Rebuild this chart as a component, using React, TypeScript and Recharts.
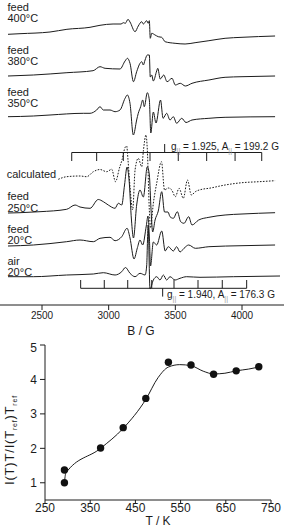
import React from 'react';
import { LineChart, Line, XAxis, YAxis, ReferenceLine, ComposedChart, Scatter } from 'recharts';

// ---------- EPR spectra (B in gauss, signal in arbitrary units) ----------
const fieldTicks = [2500, 3000, 3500, 4000];

const feed400: [number, number][] = [
  [2245, 1.7], [2335, 2.3], [2560, 4], [2687, 6.7], [2860, 8.7], [2935, 10.7], [3033, 12], [3093, 12],
  [3110, 13.3], [3125, 12.7], [3145, 16.7], [3160, 14], [3198, 4.3], [3222, 10], [3248, 14.3], [3260, 12],
  [3285, 15.3], [3297, 12.7], [3305, 15.3], [3312, -2.3], [3323, 2.7], [3348, 1], [3372, -0.7],
  [3398, -1.3], [3423, -5.7], [3498, -7.3], [3573, -8], [3648, -6.7], [3752, -4.7], [3873, -2.3],
  [4000, -1.3], [4248, 0],
];
const feed380: [number, number][] = [
  [2245, 0], [2435, 1], [2687, 3.3], [2883, 5.3], [2935, 9.3], [2973, 7.7], [3085, 7], [3123, 15],
  [3141, 17.7], [3160, 12.7], [3186, -5.7], [3210, 4.3], [3235, 12.7], [3248, 14.3], [3260, 11],
  [3273, 16], [3290, 21], [3305, 21], [3312, -1], [3323, 1], [3335, -5], [3360, 5], [3368, 7.7],
  [3387, -3], [3413, 1], [3438, -5.7], [3475, -2.3], [3500, -9], [3537, -7.3], [3575, -10],
  [3625, -7.3], [3752, -4], [3873, -1.3], [4000, -0.7], [4248, 0],
];
const feed350: [number, number][] = [
  [2245, 0.3], [2435, 1], [2560, 2], [2810, 3.7], [2860, 3.7], [2910, 7], [2935, 10.3], [2960, 7],
  [3010, 7], [3048, 5.3], [3085, 7], [3123, 18.7], [3140, 22], [3160, 13.7], [3185, -18], [3210, -3],
  [3222, 3.7], [3240, 10.3], [3255, 17], [3267, 10.3], [3290, 24.3], [3305, 17], [3316, -16],
  [3335, 5], [3355, -6], [3389, 17], [3408, -1.3], [3435, 3.7], [3460, -3], [3485, 0.3], [3510, -6.3],
  [3548, -1.3], [3580, -5.5], [3625, -3], [3752, -1.3], [3873, -0.3], [4248, 0.3],
];
const calculated: [number, number][] = [
  [2622, 1.7], [2685, 4.3], [2785, 5], [2835, 4.3], [2885, 9.3], [2935, 11.5], [2985, 9.3], [3023, 11.7],
  [3051, -0.7], [3081, 13], [3100, 21], [3123, 33.5], [3135, 35], [3145, 21], [3160, -5.7], [3180, -29],
  [3198, 11], [3222, 22.7], [3248, 14.3], [3261, 31], [3280, 46], [3290, 31], [3305, -29], [3314, -47],
  [3335, -22.3], [3360, -2.3], [3396, 19.3], [3419, -9], [3447, -7], [3473, -9], [3500, -15.7],
  [3528, -7.3], [3560, -17.3], [3591, 1], [3620, -14], [3650, -10.7], [3700, -8.3], [3752, -7.3],
  [3873, -4], [4000, -1.7], [4128, -0.7], [4248, 0.3],
];
const feed250: [number, number][] = [
  [2245, 0], [2335, 0.3], [2485, 1.3], [2685, 3.7], [2748, 8], [2785, 6], [2860, 4.7], [2922, 13.5],
  [2960, 11.3], [2997, 8], [3048, 4.7], [3072, 9.7], [3098, 8], [3119, 28], [3138, 46], [3153, 33],
  [3171, -7], [3186, -25], [3210, 8], [3235, 23], [3260, 16], [3290, 46.3], [3305, 38], [3318, 3],
  [3330, -19], [3348, -7], [3372, 2], [3398, 21.3], [3419, 1], [3445, 1], [3460, -3.7], [3485, -5.3],
  [3515, 1.3], [3540, -8.7], [3565, -10.3], [3600, -3.7], [3625, -12], [3675, -7], [3752, -4.3],
  [3873, -2], [4000, -1], [4248, 0.3],
];
const feed20: [number, number][] = [
  [2245, -1], [2435, 0], [2685, 3.3], [2785, 5], [2885, 3.3], [2935, 6.7], [3010, 7.7], [3048, 4.3],
  [3098, 8.3], [3138, 16.7], [3160, 7], [3190, -14], [3216, -2.5], [3235, 5], [3255, 0], [3282, 19],
  [3295, 29], [3306, 5], [3314, -21], [3335, 3], [3360, 0], [3398, 14], [3424, -6], [3447, -1.7],
  [3485, -6], [3510, -1.7], [3535, -7], [3565, -3.3], [3600, 0], [3650, -3.3], [3752, -1.7],
  [4000, -0.7], [4248, 0],
];
const air20: [number, number][] = [
  [2245, 0.3], [2435, 0.3], [2685, 2], [2885, 3], [2960, 4.3], [3048, 2], [3098, 5.3], [3126, 9.5],
  [3160, 3.7], [3198, 0.3], [3235, 3.7], [3273, 2], [3285, 11], [3296, 52], [3310, -12], [3335, -3],
  [3360, 0.3], [3385, -3], [3410, 2], [3435, -3], [3460, 0.3], [3498, -3], [3535, -1.3], [3585, 0.3],
  [3685, -0.3], [3935, 0.3], [4285, 1],
];

// vertical stacking offsets of the spectra
const offsets = { f400: 269, f380: 229, f350: 188, calc: 124, f250: 92, f20: 60, air: 28 };

// stick diagrams (hyperfine line positions, G)
const sticks1925 = [2723, 2910, 3110, 3310, 3522, 3735, 3948, 4148];
const center1925 = 3420;
const sticks1940 = [2790, 2967, 3143, 3323, 3490, 3670, 3852, 4035];
const center1940 = 3405;
const stickLevel1 = 152.5;
const stickLevel2 = 16.7;

// ---------- normalised intensity vs T ----------
const tempTicks = [250, 350, 450, 550, 650, 750];
const intensityTicks = [1, 2, 3, 4, 5];
const temps = [293, 293, 373, 423, 473, 523, 573, 623, 673, 723];
const ratios = [1.37, 1.0, 2.01, 2.6, 3.45, 4.5, 4.42, 4.15, 4.25, 4.37];
const fitT = [293, 296, 373, 423, 473, 500, 523, 548, 573, 600, 623, 648, 673, 700, 723];
const fitV = [1.0, 1.28, 2.0, 2.58, 3.42, 4.05, 4.36, 4.43, 4.4, 4.24, 4.16, 4.18, 4.25, 4.3, 4.36];

const FONT = '"Liberation Sans", Arial, sans-serif';
const INK = '#1c1c1c';

const toSeries = (arr: [number, number][], off: number) => arr.map(([B, s]) => ({ B, v: off + s }));

const Sub = ({ children }: { children: React.ReactNode }) => (
  <tspan fontSize={7} dy={3} fill="#999">{children}</tspan>
);

export default function App() {
  const points = temps.map((t, i) => ({ t, v: ratios[i] }));
  const fit = fitT.map((t, i) => ({ t, v: fitV[i] }));
  const series = [
    { d: toSeries(feed400, offsets.f400), dash: undefined },
    { d: toSeries(feed380, offsets.f380), dash: undefined },
    { d: toSeries(feed350, offsets.f350), dash: undefined },
    { d: toSeries(calculated, offsets.calc), dash: '1.6 1.4' },
    { d: toSeries(feed250, offsets.f250), dash: undefined },
    { d: toSeries(feed20, offsets.f20), dash: undefined },
    { d: toSeries(air20, offsets.air), dash: undefined },
  ];
  const seg = (x1: number, y1: number, x2: number, y2: number, k: string) => (
    <ReferenceLine key={k} segment={[{ x: x1, y: y1 }, { x: x2, y: y2 }]} stroke={INK} strokeWidth={1} ifOverflow="visible" />
  );
  const labels: [string, number, number][] = [
    ['feed', 7.5, 11], ['400°C', 7.5, 22],
    ['feed', 7.5, 54], ['380°C', 7.5, 65],
    ['feed', 7.5, 96], ['350°C', 7.5, 107],
    ['calculated', 6.7, 178],
    ['feed', 7.5, 200], ['250°C', 7.5, 211.5],
    ['feed', 7.5, 232.5], ['20°C', 7.5, 244],
    ['air', 7.5, 265], ['20°C', 7.5, 275.5],
  ];
  return (
    <div style={{ position: 'absolute', left: 0, top: 0, width: 284, height: 532, background: '#fff', fontFamily: FONT }}>
      <div style={{ position: 'absolute', left: 0, top: 0 }}>
        <LineChart width={284} height={340} margin={{ top: 0, right: 0, bottom: 0, left: 0 }}>
          <XAxis
            type="number"
            dataKey="B"
            domain={[2185, 4315]}
            ticks={fieldTicks}
            allowDataOverflow
            height={35}
            tickSize={5}
            tickMargin={2}
            stroke={INK}
            tick={{ fontSize: 10, fill: INK, fontFamily: FONT }}
          />
          <YAxis hide type="number" domain={[0, 305]} allowDataOverflow width={0} />
          {series.map((s, i) => (
            <Line
              key={i}
              data={s.d}
              dataKey="v"
              type="monotone"
              stroke={INK}
              strokeWidth={1}
              strokeDasharray={s.dash}
              dot={false}
              activeDot={false}
              isAnimationActive={false}
            />
          ))}
          {seg(sticks1925[0], stickLevel1, sticks1925[sticks1925.length - 1], stickLevel1, 'h1')}
          {sticks1925.map((b, i) => seg(b, stickLevel1, b, stickLevel1 - 8.5, 's1' + i))}
          {seg(center1925, stickLevel1, center1925, stickLevel1 + 8.5, 'c1')}
          {seg(sticks1940[0], stickLevel2, sticks1940[sticks1940.length - 1], stickLevel2, 'h2')}
          {sticks1940.map((b, i) => seg(b, stickLevel2, b, stickLevel2 + 8.3, 's2' + i))}
          {seg(center1940, stickLevel2, center1940, stickLevel2 - 8.3, 'c2')}
        </LineChart>
      </div>
      <div style={{ position: 'absolute', left: 0, top: 340 }}>
        <ComposedChart width={284} height={192} margin={{ top: 5, right: 13, bottom: 0, left: 0 }}>
          <XAxis
            type="number"
            dataKey="t"
            domain={[250, 750]}
            ticks={tempTicks}
            height={32}
            tickSize={3}
            tickMargin={0}
            stroke={INK}
            tick={{ fontSize: 12, fill: INK, fontFamily: FONT }}
          />
          <YAxis
            type="number"
            domain={[0.5, 5]}
            ticks={intensityTicks}
            width={45}
            tickSize={5}
            tickMargin={3}
            stroke={INK}
            tick={{ fontSize: 12, fill: INK, fontFamily: FONT }}
          />
          <Line data={fit} dataKey="v" type="monotone" stroke={INK} strokeWidth={1} dot={false} activeDot={false} isAnimationActive={false} />
          <Scatter
            data={points}
            dataKey="v"
            fill="#111"
            isAnimationActive={false}
            shape={(p: any) => <circle cx={p.cx} cy={p.cy} r={3.7} fill="#111" />}
          />
        </ComposedChart>
      </div>
      <svg width={284} height={532} style={{ position: 'absolute', left: 0, top: 0, pointerEvents: 'none' }} fontFamily={FONT}>
        {labels.map(([t, x, y], i) => (
          <text key={i} x={x} y={y} fontSize={11} fill={INK}>{t}</text>
        ))}
        <text x={171} y={150} fontSize={10} fill={INK}>
          g<Sub>||</Sub><tspan dy={-3}> = 1.925, A</tspan><Sub>||</Sub><tspan dy={-3}> = 199.2 G</tspan>
        </text>
        <text x={167} y={298} fontSize={10} fill={INK}>
          g<Sub>||</Sub><tspan dy={-3}> = 1.940, A</tspan><Sub>||</Sub><tspan dy={-3}> = 176.3 G</tspan>
        </text>
        <text x={141} y={335} fontSize={12} fill={INK} textAnchor="middle">B / G</text>
        <text x={158} y={525} fontSize={12} fill={INK} textAnchor="middle">T / K</text>
        <text
          transform="translate(14, 440) rotate(-90)"
          fontSize={13}
          letterSpacing={0.8}
          fill={INK}
          textAnchor="middle"
        >
          I(T)T/I(T<tspan fontSize={7} dy={3}>ref</tspan><tspan dy={-3}>)T</tspan><tspan fontSize={7} dy={3}>ref</tspan>
        </text>
      </svg>
    </div>
  );
}
